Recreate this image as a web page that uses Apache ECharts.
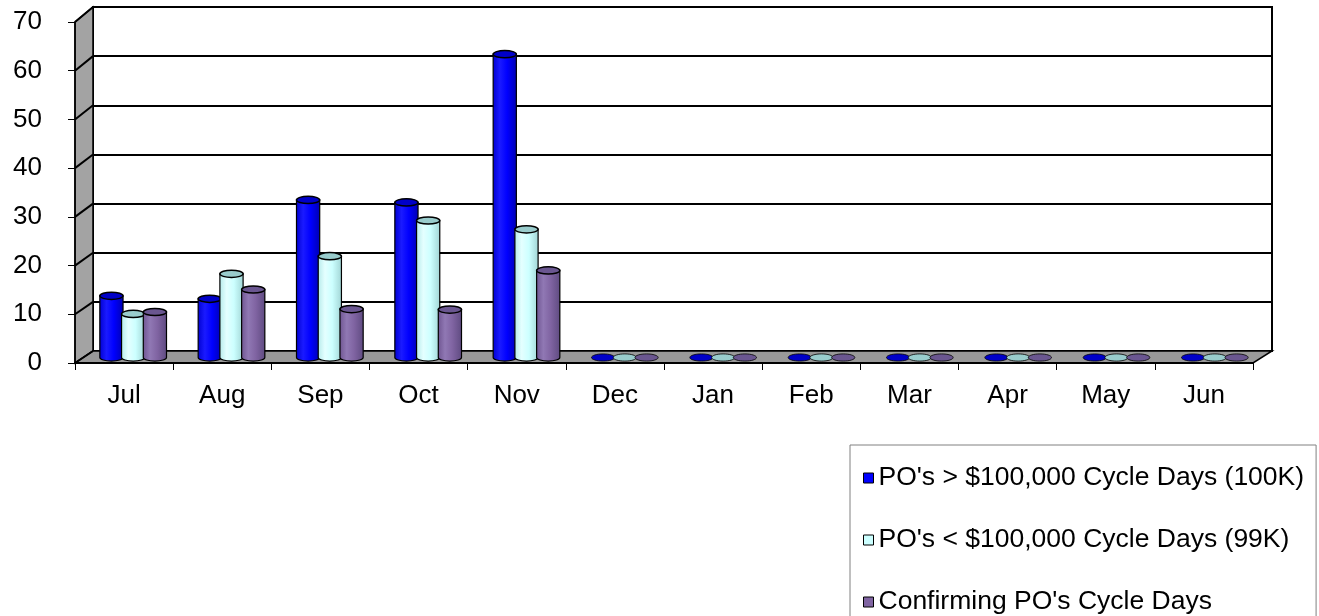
<!DOCTYPE html>
<html>
<head>
<meta charset="utf-8">
<script src="https://cdn.jsdelivr.net/npm/echarts@6/dist/echarts.min.js"></script>
<style>
html,body{margin:0;padding:0;background:#fff;}
#chart{width:1319px;height:616px;}
</style>
</head>
<body>
<div id="chart"></div>
<script>
// ---- data ----
const months = ['Jul','Aug','Sep','Oct','Nov','Dec','Jan','Feb','Mar','Apr','May','Jun'];
const over100k = [12.6, 12.0, 32.2, 31.7, 62.0, 0, 0, 0, 0, 0, 0, 0];
const under100k = [8.9, 17.1, 20.7, 28.0, 26.2, 0, 0, 0, 0, 0, 0, 0];
const confirming = [9.3, 13.9, 9.9, 9.8, 17.8, 0, 0, 0, 0, 0, 0, 0];
const seriesNames = ["PO's > $100,000 Cycle Days (100K)", "PO's < $100,000 Cycle Days (99K)", "Confirming PO's Cycle Days"];
const yTicks = [0, 10, 20, 30, 40, 50, 60, 70];

// ---- layout / style ----
const FONT = 'Liberation Sans, Arial, sans-serif';
const YMAX = 70;
const BACK = {left: 93, top: 7, width: 1179, height: 344};
const FRONT = {left: 75, top: 22, width: 1178, height: 341};
const MID = {left: 84, top: 15, width: 1180, height: 342.5};

const palettes = [
  {base: '#0000ff', edgeL: '#0000d0', hi: '#1a1aff', edgeR: '#0000b0', top: '#0000c8'},
  {base: '#ccffff', edgeL: '#b4eaea', hi: '#e4ffff', edgeR: '#a0d4d4', top: '#99cccc'},
  {base: '#8064a2', edgeL: '#6e5490', hi: '#9078b4', edgeR: '#5e4a80', top: '#6a5690'}
];

const chart = echarts.init(document.getElementById('chart'), null, {renderer: 'canvas'});

function frameRender(params, api) {
  const cs = params.coordSys;
  const fx0 = cs.x, fx1 = cs.x + cs.width, fyT = cs.y, fyB = cs.y + cs.height;
  const bx0 = BACK.left, bx1 = BACK.left + BACK.width, byT = BACK.top, byB = BACK.top + BACK.height;
  const children = [];
  children.push({type: 'polygon', shape: {points: [[fx0, fyT], [bx0, byT], [bx0, byB], [fx0, fyB]]},
    style: {fill: '#a3a3a3', stroke: '#000', lineWidth: 1.5}});
  children.push({type: 'polygon', shape: {points: [[fx0, fyB], [bx0, byB], [bx1, byB], [fx1, fyB]]},
    style: {fill: '#999999', stroke: '#000', lineWidth: 1.5}});
  yTicks.forEach(function (v) {
    const fy = api.coord([0, v])[1];
    const by = byB - BACK.height * v / YMAX;
    children.push({type: 'line', shape: {x1: fx0, y1: fy, x2: bx0, y2: by}, style: {stroke: '#000', lineWidth: 2}});
  });
  children.push({type: 'line', shape: {x1: bx1, y1: byT, x2: bx1, y2: byB}, style: {stroke: '#000', lineWidth: 2}});
  return {type: 'group', children: children};
}

function makeCylRender(sIdx) {
  const pal = palettes[sIdx];
  return function (params, api) {
    const cat = api.value(0), val = api.value(1);
    const base = api.coord([cat, 0]);
    const top = api.coord([cat, val]);
    const bw = api.size([1, 0])[0];
    const cx = base[0] + (sIdx - 1) * bw * 0.221;
    const rx = bw * 0.118, ry = 3.6;
    const l = cx - rx, r = cx + rx, t = top[1], b = base[1];
    const children = [];
    if (b - t > 0.5) {
      children.push({
        type: 'path',
        shape: {pathData: 'M' + l + ' ' + t + ' L' + l + ' ' + b + ' A' + rx + ' ' + ry + ' 0 0 0 ' + r + ' ' + b + ' L' + r + ' ' + t + ' Z'},
        style: {
          fill: new echarts.graphic.LinearGradient(0, 0, 1, 0, [
            {offset: 0, color: pal.edgeL}, {offset: 0.3, color: pal.hi}, {offset: 0.6, color: pal.base}, {offset: 1, color: pal.edgeR}
          ]),
          stroke: '#000', lineWidth: 1.2
        }
      });
    }
    children.push({type: 'ellipse', shape: {cx: cx, cy: t, rx: rx, ry: ry},
      style: {fill: pal.top, stroke: '#000', lineWidth: (b - t > 0.5) ? 1.5 : 0.8}});
    return {type: 'group', children: children};
  };
}

const seriesData = [over100k, under100k, confirming];

const option = {
  animation: false,
  backgroundColor: '#fff',
  grid: [
    Object.assign({show: true, backgroundColor: '#fff', borderColor: '#000', borderWidth: 2}, BACK),
    Object.assign({show: false}, FRONT),
    Object.assign({show: false}, MID)
  ],
  xAxis: [
    {gridIndex: 0, type: 'category', data: months, show: false},
    {gridIndex: 1, type: 'category', data: months, boundaryGap: true, z: 10,
      axisLine: {show: true, lineStyle: {color: '#000', width: 2}},
      axisTick: {show: true, alignWithLabel: false, length: 7, lineStyle: {color: '#000', width: 1}},
      axisLabel: {color: '#000', fontSize: 26, fontFamily: FONT, margin: 20, interval: 0},
      splitLine: {show: false}},
    {gridIndex: 2, type: 'category', data: months, show: false}
  ],
  yAxis: [
    {gridIndex: 0, type: 'value', min: 0, max: YMAX, interval: 10,
      axisLine: {show: false}, axisTick: {show: false}, axisLabel: {show: false},
      splitLine: {show: true, lineStyle: {color: '#000', width: 2}}},
    {gridIndex: 1, type: 'value', min: 0, max: YMAX, interval: 10, z: 10,
      axisLine: {show: true, lineStyle: {color: '#000', width: 1.5}},
      axisTick: {show: true, length: 7, lineStyle: {color: '#000', width: 1}},
      axisLabel: {color: '#000', fontSize: 26, fontFamily: FONT, margin: 33,
        formatter: function (v) { return yTicks.indexOf(v) >= 0 ? String(v) : ''; }},
      splitLine: {show: false}},
    {gridIndex: 2, type: 'value', min: 0, max: YMAX, show: false}
  ],
  legend: {
    type: 'plain', orient: 'vertical', left: 850, top: 445, height: 200,
    padding: [18, 12, 24, 13], itemGap: 32,
    borderColor: '#808080', borderWidth: 1, backgroundColor: '#fff',
    icon: 'rect', itemWidth: 10, itemHeight: 10,
    itemStyle: {borderColor: '#000', borderWidth: 1},
    textStyle: {color: '#000', fontSize: 26.5, fontFamily: FONT, lineHeight: 30},
    selectedMode: false,
    data: seriesNames
  },
  series: [
    {type: 'custom', name: '__frame', xAxisIndex: 1, yAxisIndex: 1, z: 2, silent: true, clip: false,
      renderItem: frameRender, data: [[0, 0]]}
  ].concat(seriesData.map(function (arr, i) {
    return {
      type: 'custom', name: seriesNames[i], xAxisIndex: 2, yAxisIndex: 2, z: 3 + i, clip: false,
      itemStyle: {color: palettes[i].base},
      renderItem: makeCylRender(i),
      data: arr.map(function (v, k) { return [k, v]; })
    };
  }))
};
chart.setOption(option);
</script>
</body>
</html>
